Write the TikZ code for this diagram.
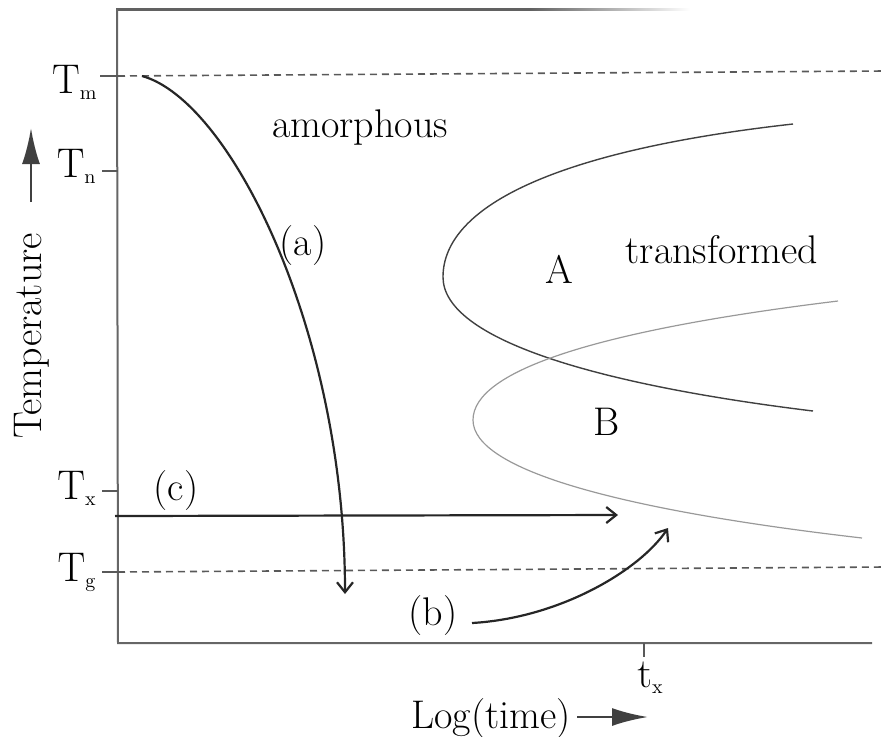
\documentclass[tikz,border=0pt]{standalone}
\usetikzlibrary{arrows.meta}

\begin{document}
\begin{tikzpicture}[
  x=0.5pt, y=-0.5pt,
  font=\fontsize{20}{24}\selectfont,
  frameline/.style={draw=black!60, line width=1pt},
  guide/.style={draw=black!65, line width=0.8pt, dash pattern=on 3.5pt off 2.5pt},
  tickmark/.style={draw=black!65, line width=0.8pt},
  route/.style={-{Straight Barb[length=5pt,width=8pt]}, draw=black!85, line width=1.1pt},
  bigarrow/.style={-{Latex[length=18pt,width=9pt]}, draw=black!75, line width=1.2pt},
  curveA/.style={draw=black!75, line width=0.7pt},
  curveB/.style={draw=black!40, line width=0.6pt},
  lbl/.style={inner sep=0pt, anchor=base}
]
\useasboundingbox (0,0) rectangle (884,736);

% Frame (top edge fades out)
\coordinate (ftop) at (117,9);
\coordinate (fcorner) at (118,643);
\coordinate (fright) at (872,643);
\fill[black!62] (116,8) rectangle (530,10.5);
\shade[left color=black!62, right color=white] (530,8) rectangle (690,10.5);
\draw[frameline] (ftop) -- (fcorner) -- (fright);

% Temperature levels
\node[lbl, anchor=base east] (Tm) at (98,93) {$\mathrm{T}_{\scriptscriptstyle\mathrm{m}}$};
\node[lbl, anchor=base east] (Tn) at (97,177) {$\mathrm{T}_{\scriptscriptstyle\mathrm{n}}$};
\node[lbl, anchor=base east] (Tx) at (97,499) {$\mathrm{T}_{\scriptscriptstyle\mathrm{x}}$};
\node[lbl, anchor=base east] (Tg) at (97,581) {$\mathrm{T}_{\scriptscriptstyle\mathrm{g}}$};

\draw[tickmark] (100,76) -- (118,76);
\draw[tickmark] (102,171) -- (118,171);
\draw[tickmark] (102,491) -- (118,491);
\draw[tickmark] (102,572) -- (118,572);
\draw[guide] (118,76) -- (884,71);
\draw[guide] (118,572) -- (884,567);

% Time axis
\draw[tickmark] (644,643) -- (644,657);
\node[lbl, anchor=base west] (tx) at (637,687) {$\mathrm{t}_{\scriptscriptstyle\mathrm{x}}$};

% Axis titles
\node[lbl, rotate=90] (temp) at (41,336) {Temperature};
\coordinate (tempfoot) at (31,202);
\coordinate (temptip) at (31,128);
\draw[bigarrow] (tempfoot) -- (temptip);

\node[lbl, anchor=base east] (logtime) at (571,728) {Log(time)};
\coordinate (timefoot) at (577,717);
\coordinate (timetip) at (648,717);
\draw[bigarrow] (timefoot) -- (timetip);

% Transformation noses
\coordinate (noseA) at (443,277);
\coordinate (noseB) at (473,420);
\draw[curveA] (793,124) .. controls (560,150) and (443,205) .. (noseA)
  .. controls (443,340) and (600,385) .. (813,411);
\draw[curveB] (838,301) .. controls (600,330) and (473,370) .. (noseB)
  .. controls (473,470) and (620,510) .. (862,538);

% Region labels
\node[lbl] (amorph) at (360,137) {amorphous};
\node[lbl] (trans) at (722,263) {transformed};
\node[lbl] (regA) at (559,283) {A};
\node[lbl] (regB) at (607,435) {B};

% Paths (a), (b), (c)
\coordinate (aStart) at (142,76);
\coordinate (aEnd) at (345,594);
\draw[route] (aStart) .. controls (230,100) and (345,330) .. (aEnd);
\node[lbl] (la) at (303,255) {(a)};

\coordinate (bStart) at (472,623);
\coordinate (bEnd) at (668,528);
\draw[route] (bStart) .. controls (560,618) and (640,570) .. (bEnd);
\node[lbl] (lb) at (433,625) {(b)};

\coordinate (cStart) at (115,516);
\coordinate (cEnd) at (618,515);
\draw[route] (cStart) -- (cEnd);
\node[lbl] (lc) at (176,500) {(c)};

\end{tikzpicture}
\end{document}
